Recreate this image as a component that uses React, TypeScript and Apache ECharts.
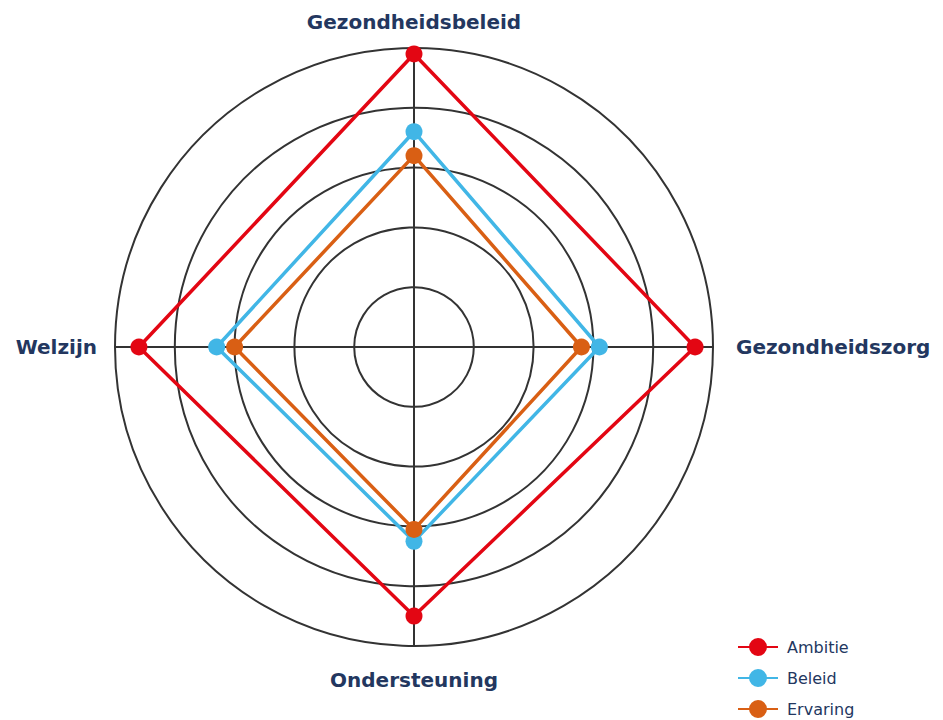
import React, { useEffect, useRef } from "react";
import * as echarts from "echarts";

const indicators = ["Gezondheidsbeleid", "Welzijn", "Ondersteuning", "Gezondheidszorg"];
const seriesNames = ["Ambitie", "Beleid", "Ervaring"];
const ambitie = [4.9, 4.6, 4.5, 4.7];
const beleid = [3.6, 3.3, 3.25, 3.1];
const ervaring = [3.2, 3.0, 3.05, 2.8];
const maxValue = 5;

const colors = ["#e30613", "#41b6e6", "#d95f14"];
const navy = "#23375f";

const legendIcon =
  "path://M0,8 L12,8 L12,10 L0,10 Z M28,8 L40,8 L40,10 L28,10 Z M11,9 A9,9 0 1,1 29,9 A9,9 0 1,1 11,9 Z";

const namePad: Record<string, number[]> = {
  Gezondheidsbeleid: [0, 0, 0, 0],
  Welzijn: [0, 2, 0, 0],
  Ondersteuning: [8, 0, 0, 0],
  Gezondheidszorg: [0, 0, 0, 7],
};

export default function App() {
  const ref = useRef<HTMLDivElement>(null);
  useEffect(() => {
    if (!ref.current) return;
    const chart = echarts.init(ref.current, undefined, { renderer: "svg" });
    const values = [ambitie, beleid, ervaring];
    const rich: Record<string, any> = {};
    indicators.forEach((n, i) => {
      rich["n" + i] = {
        color: navy,
        fontSize: 20,
        fontWeight: "bold",
        fontFamily: "DejaVu Sans",
        padding: namePad[n],
      };
    });
    chart.setOption({
      animation: false,
      backgroundColor: "#ffffff",
      legend: {
        orient: "vertical",
        left: 738,
        top: 638,
        padding: 0,
        itemWidth: 40,
        itemHeight: 18,
        itemGap: 13,
        icon: legendIcon,
        data: seriesNames,
        textStyle: { color: navy, fontSize: 16, fontFamily: "DejaVu Sans", padding: [0, 0, 0, 4] },
      },
      radar: {
        center: [414, 347],
        radius: 299,
        splitNumber: 5,
        shape: "circle",
        startAngle: 90,
        nameGap: 16,
        indicator: indicators.map((n) => ({ name: n, max: maxValue, min: 0 })),
        axisName: {
          color: navy,
          fontSize: 20,
          fontWeight: "bold",
          fontFamily: "DejaVu Sans",
          formatter: (name: string) => `{n${indicators.indexOf(name)}|${name}}`,
          rich,
        },
        splitLine: { lineStyle: { color: "#333333", width: 2 } },
        axisLine: { lineStyle: { color: "#333333", width: 2 } },
        splitArea: { show: false },
        axisTick: { show: false },
        axisLabel: { show: false },
      },
      series: [
        {
          type: "radar",
          symbol: "circle",
          symbolSize: 17,
          data: seriesNames.map((name, i) => ({
            name,
            value: values[i],
            itemStyle: { color: colors[i] },
            lineStyle: { color: colors[i], width: 3.5 },
          })),
        },
      ],
    });
    return () => chart.dispose();
  }, []);
  return <div ref={ref} style={{ width: 943, height: 720, position: "absolute", left: 0, top: 0 }} />;
}
